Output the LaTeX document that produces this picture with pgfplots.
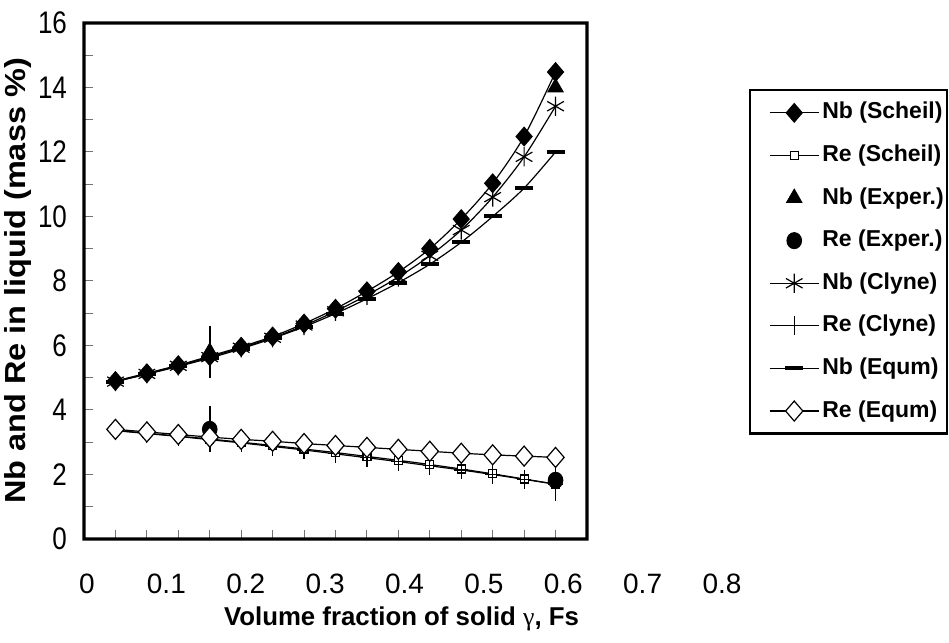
\documentclass[border=0pt]{standalone}
\usepackage{pgfplots}
\pgfplotsset{compat=1.18}
\usepackage{graphicx}
\usepackage{fontspec}
\setmainfont{Liberation Sans}
\newfontfamily\grk{Liberation Serif}

\newcommand\sy[1]{\scalebox{1}[1.2]{#1}}

\begin{document}
\begin{tikzpicture}
\path[use as bounding box] (-42pt,-52pt) rectangle (432.5pt,269.5pt);

\begin{axis}[
  name=main,
  at={(0pt,0pt)}, anchor=south west,
  scale only axis, width=251.5pt, height=258pt,
  xmin=0, xmax=0.8, ymin=0, ymax=16,
  clip=false,
  axis line style={draw=none},
  xtick={0.05,0.1,0.15,0.2,0.25,0.3,0.35,0.4,0.45,0.5,0.55,0.6,0.65,0.7,0.75},
  xticklabels={},
  ytick={0,2,4,6,8,10,12,14,16},
  yticklabels={\sy{0},\sy{2},\sy{4},\sy{6},\sy{8},\sy{10},\sy{12},\sy{14},\sy{16}},
  yticklabel style={font=\fontsize{13}{13}\selectfont, xshift=-5pt},
  major x tick style={draw=none}, major y tick style={draw=none},
  ylabel={\scalebox{1.12}[1]{Nb and Re in liquid (mass \%)}},
  ylabel style={font=\bfseries\fontsize{14.5}{16}\selectfont,
    at={(axis description cs:-0.1312,0.5)}, anchor=center},
  every axis plot/.append style={line width=0.6pt, black},
  legend cell align=left,
  legend image code/.code={
    \path (0pt,0pt);
    \draw[mark repeat=2,mark phase=2,#1] plot coordinates {(8pt,0pt) (20.25pt,0pt) (32.5pt,0pt)};
  },
  legend style={at={(axis description cs:1.322,0.872)}, anchor=north west,
    draw=black, line width=1.2pt,
    font=\bfseries\fontsize{11.5}{12}\selectfont,
    inner xsep=1.5pt, inner ysep=5.8pt, row sep=10.3pt, column sep=1.5pt,
    nodes={inner sep=0pt, text height=8.5pt, text depth=2.5pt}},
]

% inner tick marks
\pgfplotsinvokeforeach{0.05,0.1,0.15,0.2,0.25,0.3,0.35,0.4,0.45,0.5,0.55,0.6,0.65,0.7,0.75}{
  \draw[black!55, line width=0.5pt] (axis cs:#1,0) -- ++(0pt,4.5pt);
}
\pgfplotsinvokeforeach{1,2,...,15}{
  \draw[black!55, line width=0.5pt] (axis cs:0,#1) -- ++(4.5pt,0pt);
}

\addplot[smooth, mark=diamond*, mark size=4.6pt, mark options={solid, fill=black, xscale=1.15}]
coordinates {(0.05,4.90)(0.10,5.14)(0.15,5.39)(0.20,5.67)(0.25,5.96)(0.30,6.28)(0.35,6.68)(0.40,7.14)
(0.45,7.68)(0.50,8.28)(0.55,9.00)(0.60,9.92)(0.65,11.03)(0.70,12.48)(0.75,14.48)};
\addlegendentry{Nb (Scheil)}

\addplot[smooth, mark=square*, mark size=2pt, mark options={fill=white}]
coordinates {(0.05,3.37)(0.10,3.28)(0.15,3.19)(0.20,3.10)(0.25,3.00)(0.30,2.90)(0.35,2.79)(0.40,2.68)
(0.45,2.56)(0.50,2.44)(0.55,2.31)(0.60,2.17)(0.65,2.02)(0.70,1.86)(0.75,1.70)};
\addlegendentry{Re (Scheil)}

\addplot[only marks, mark=triangle*, mark size=4.3pt, mark options={fill=black}]
coordinates {(0.20,5.80)(0.75,14.00)};
\addlegendentry{Nb (Exper.)}
\addplot[only marks, mark=none, forget plot,
  error bars/.cd, y dir=both, y explicit,
  error bar style={line width=0.8pt}, error mark options={mark size=3.5pt, line width=0.8pt}]
coordinates {(0.20,5.80) +- (0,0.6)};

\addplot[only marks, mark=*, mark size=3.6pt, mark options={fill=black, yscale=1.1},
  error bars/.cd, y dir=both, y explicit,
  error bar style={line width=0.8pt}, error mark options={mark size=3.5pt, line width=0.8pt}]
coordinates {(0.20,3.40) +- (0,0.50) (0.75,1.82) +- (0,0.42)};
\addlegendentry{Re (Exper.)}

\addplot[smooth, mark=asterisk, mark size=4.8pt]
coordinates {(0.05,4.88)(0.10,5.12)(0.15,5.37)(0.20,5.64)(0.25,5.93)(0.30,6.24)(0.35,6.62)(0.40,7.06)
(0.45,7.56)(0.50,8.12)(0.55,8.78)(0.60,9.58)(0.65,10.60)(0.70,11.85)(0.75,13.42)};
\addlegendentry{Nb (Clyne)}

\addplot[smooth, mark=+, mark size=3.6pt, mark options={yscale=1.3}]
coordinates {(0.05,3.36)(0.10,3.27)(0.15,3.18)(0.20,3.08)(0.25,2.98)(0.30,2.87)(0.35,2.76)(0.40,2.64)
(0.45,2.52)(0.50,2.40)(0.55,2.27)(0.60,2.14)(0.65,2.00)(0.70,1.85)(0.75,1.70)};
\addlegendentry{Re (Clyne)}

\addplot[smooth, mark=-, mark size=4.5pt, mark options={line width=2pt}]
coordinates {(0.05,4.88)(0.10,5.11)(0.15,5.35)(0.20,5.61)(0.25,5.90)(0.30,6.22)(0.35,6.58)(0.40,6.99)
(0.45,7.45)(0.50,7.95)(0.55,8.52)(0.60,9.20)(0.65,10.00)(0.70,10.88)(0.75,12.00)};
\addlegendentry{Nb (Equm)}

\addplot[smooth, mark=diamond*, mark size=5pt, mark options={fill=white, xscale=1.15}]
coordinates {(0.05,3.40)(0.10,3.32)(0.15,3.24)(0.20,3.16)(0.25,3.09)(0.30,3.03)(0.35,2.96)(0.40,2.90)
(0.45,2.84)(0.50,2.78)(0.55,2.72)(0.60,2.66)(0.65,2.61)(0.70,2.57)(0.75,2.53)};
\addlegendentry{Re (Equm)}
\end{axis}

% the plot frame, as a filled ring
\fill[black, even odd rule] (-0.8pt,-0.8pt) rectangle (252.3pt,258.8pt)
  (0.8pt,0.8pt) rectangle (250.7pt,257.2pt);

% tick labels of x, spread wider than the box as in the original figure
\begin{axis}[
  at={(1.5pt,0pt)}, anchor=south west,
  scale only axis, width=317.5pt, height=258pt,
  xmin=0, xmax=0.8, ymin=0, ymax=1,
  axis line style={draw=none}, major tick length=0pt,
  ytick=\empty,
  xtick={0,0.1,0.2,0.3,0.4,0.5,0.6,0.7,0.8},
  xticklabels={0,0.1,0.2,0.3,0.4,0.5,0.6,0.7,0.8},
  xticklabel style={font=\fontsize{14}{14}\selectfont, anchor=north, yshift=-14pt},
  xlabel={Volume fraction of solid {\grk\mdseries γ}, Fs},
  xlabel style={font=\bfseries\fontsize{12.9}{14}\selectfont,
    at={(axis description cs:0.5,0)}, anchor=base, yshift=-43pt, xshift=-1.5pt},
]
\end{axis}
\end{tikzpicture}
\end{document}
